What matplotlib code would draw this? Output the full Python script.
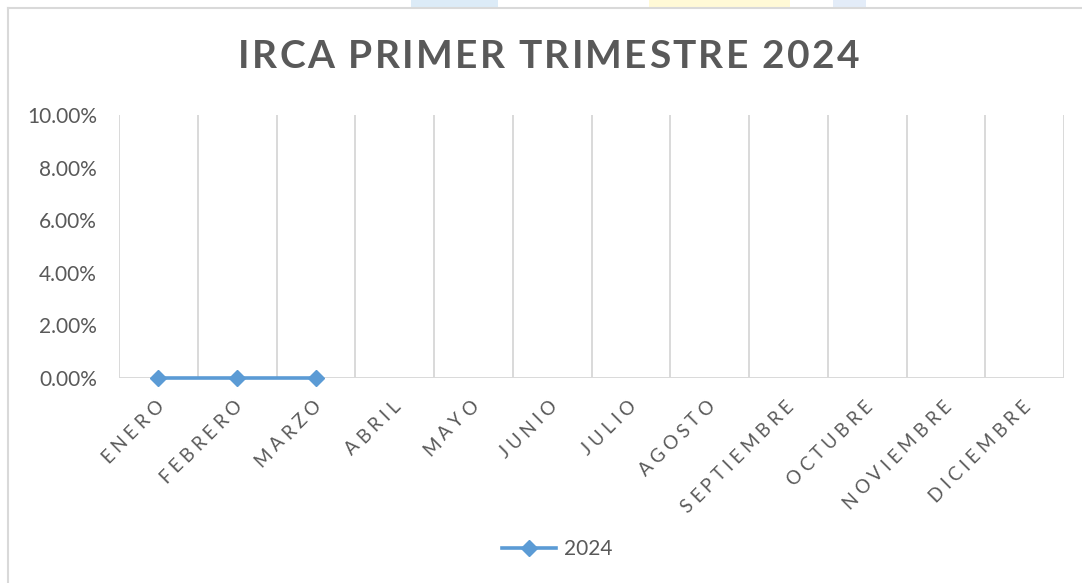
import math

import matplotlib
matplotlib.use("Agg")
import matplotlib.pyplot as plt
from matplotlib.font_manager import FontProperties
from matplotlib.lines import Line2D
from matplotlib.patches import Rectangle
from matplotlib.transforms import IdentityTransform

months = ["ENERO", "FEBRERO", "MARZO", "ABRIL", "MAYO", "JUNIO", "JULIO",
          "AGOSTO", "SEPTIEMBRE", "OCTUBRE", "NOVIEMBRE", "DICIEMBRE"]
irca_2024 = [0.0, 0.0, 0.0]
yticks = [0.0, 0.02, 0.04, 0.06, 0.08, 0.10]
title = "IRCA PRIMER TRIMESTRE 2024"

GRAY = "#595959"
GRID = "#D9D9D9"
BLUE = "#5B9BD5"
FAM = ["Lato", "DejaVu Sans"]
W, H = 1082, 583

fig = plt.figure(figsize=(W / 100, H / 100), dpi=100)
fig.patch.set_facecolor("white")
renderer = fig.canvas.get_renderer()


def text_w(s, fp):
    t = fig.text(0, 0, s, fontproperties=fp)
    w = t.get_window_extent(renderer).width
    t.remove()
    return w


def tracked(s, x, y, fp, tracking=None, width=None, angle=0.0, align="center"):
    # draw s char by char with extra letter spacing; (x, y) = baseline point in pixels
    n = len(s)
    natural = text_w(s, fp)
    if width is not None:
        tracking = (width - natural) / (n - 1)
    total = natural + (n - 1) * tracking
    start = {"center": -total / 2, "right": -total, "left": 0.0}[align]
    c, sn = math.cos(math.radians(angle)), math.sin(math.radians(angle))
    for i, ch in enumerate(s):
        if ch == " ":
            continue
        d = start + text_w(s[:i + 1], fp) - text_w(ch, fp) + i * tracking
        fig.text(x + d * c, y + d * sn, ch, fontproperties=fp, color=GRAY,
                 rotation=angle, rotation_mode="anchor", ha="left", va="baseline",
                 transform=IdentityTransform())


# faint watermark remnants at the very top
for x0, w, col in [(0.38, 0.08, "#DCEBF7"), (0.60, 0.13, "#FFF9D6"), (0.77, 0.03, "#E3ECF8")]:
    fig.patches.append(Rectangle((x0, 0.987), w, 0.013, transform=fig.transFigure,
                                 facecolor=col, edgecolor="none", zorder=0))

# chart frame (left + top edges visible)
fig.add_artist(Line2D([8 / W, 8 / W], [0, 1 - 8 / H], transform=fig.transFigure,
                      color=GRID, lw=1.5))
fig.add_artist(Line2D([8 / W, 1], [1 - 8 / H, 1 - 8 / H], transform=fig.transFigure,
                      color=GRID, lw=1.5))

ax = fig.add_axes([119 / W, 1 - 378 / H, (1064 - 119) / W, (378 - 115) / H])
x = list(range(len(irca_2024)))
ax.plot(x, irca_2024, color=BLUE, lw=2.6, marker="D", ms=8.5, mec=BLUE, mfc=BLUE,
        label="2024", clip_on=False, zorder=5)

ax.set_xlim(-0.5, len(months) - 0.5)
ax.set_ylim(0, 0.10)
for b in range(len(months) + 1):
    ax.axvline(b - 0.5, color=GRID, lw=1.4, zorder=1)
ax.axhline(0, color=GRID, lw=1.4, zorder=1)
for s in ax.spines.values():
    s.set_visible(False)

ax.set_yticks(yticks)
ax.set_yticklabels([f"{v * 100:.2f}%" for v in yticks], color=GRAY, fontsize=15, family=FAM)
ax.tick_params(axis="y", length=0, pad=16)
ax.set_xticks(range(len(months)))
ax.set_xticklabels([])
ax.tick_params(axis="x", length=0)

# month labels, rotated 45 deg with letter spacing, right end under each category
fp_month = FontProperties(family=FAM, size=13.5)
for i, m in enumerate(months):
    cx, cy = ax.transData.transform((i, 0))
    tracked(m, cx + 6, cy - 29, fp_month, tracking=4.3, angle=45, align="right")

# title
fp_title = FontProperties(family=FAM, size=28, weight="bold")
tracked(title, 548.5, H - 68, fp_title, width=621, align="center")

leg = fig.legend(loc="center", bbox_to_anchor=(0.515, 1 - 549 / H), frameon=False,
                 prop={"family": FAM, "size": 15}, handlelength=2.6, handletextpad=0.4)
for t in leg.get_texts():
    t.set_color(GRAY)

fig.savefig("out.png", dpi=100)
